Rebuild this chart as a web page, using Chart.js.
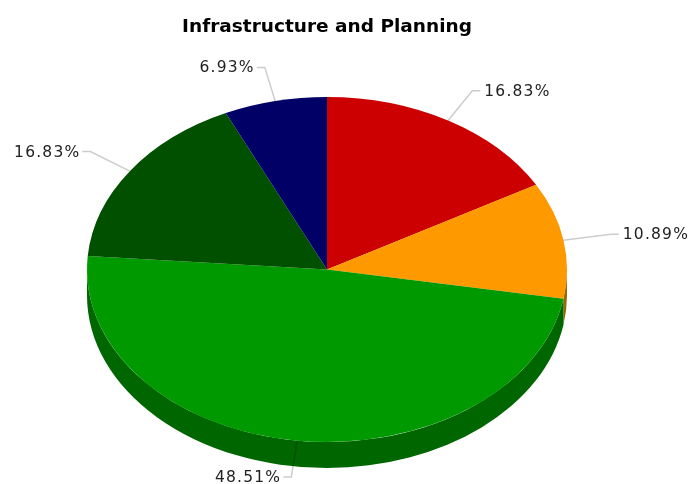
<!DOCTYPE html>
<html>
<head>
<meta charset="utf-8">
<style>
  html, body { margin: 0; padding: 0; background: #fff; }
  #wrap { position: relative; width: 689px; height: 484px; }
</style>
</head>
<body>
<div id="wrap"><canvas id="pieChart"></canvas></div>
<script src="https://cdn.jsdelivr.net/npm/chart.js@4"></script>
<script>
const values = [16.83, 10.89, 48.51, 16.83, 6.93];
const sliceLabels = ['16.83%', '10.89%', '48.51%', '16.83%', '6.93%'];
const sliceColors = ['#CC0000', '#FF9900', '#009900', '#005000', '#000066'];
const sideColors = ['#8F0000', '#996600', '#006600', '#003300', '#000047'];

// pie is squashed into an ellipse, Chart.js only does circles
const pieY = 269.5, radius = 240, squash = 0.71875, depth = 26;

const fakePie3d = {
    id: 'fakePie3d',
    beforeDatasetsDraw(chart) {
        const ctx = chart.ctx;
        const arcs = chart.getDatasetMeta(0).data;
        ctx.save();
        // side wall, only the front half can be seen
        arcs.forEach((arc, i) => {
            const a0 = Math.max(arc.startAngle, 0);
            const a1 = Math.min(arc.endAngle, Math.PI);
            if (a1 <= a0) return;
            ctx.beginPath();
            ctx.ellipse(arc.x, pieY, radius, radius * squash, 0, a0, a1);
            ctx.ellipse(arc.x, pieY + depth, radius, radius * squash, 0, a1, a0, true);
            ctx.closePath();
            ctx.fillStyle = sideColors[i];
            ctx.fill();
        });
        ctx.restore();
        ctx.save();
        const cy = arcs[0].y;
        ctx.translate(0, pieY);
        ctx.scale(1, squash);
        ctx.translate(0, -cy);
    },
    afterDatasetsDraw(chart) {
        const ctx = chart.ctx;
        ctx.restore();
        const arcs = chart.getDatasetMeta(0).data;
        ctx.save();
        ctx.font = '15.5px "DejaVu Sans"';
        ctx.letterSpacing = '1.2px';
        ctx.textBaseline = 'middle';
        arcs.forEach((arc, i) => {
            const mid = (arc.startAngle + arc.endAngle) / 2;
            const c = Math.cos(mid), s = Math.sin(mid);
            const x0 = arc.x + radius * c, y0 = pieY + radius * squash * s;
            const x1 = arc.x + 1.2 * radius * c, y1 = pieY + 1.2 * radius * squash * s + (s > 0.9 ? 2 : 0);
            const dir = c >= 0 ? 1 : -1;
            ctx.beginPath();
            ctx.moveTo(x0, y0);
            ctx.lineTo(x1, y1);
            ctx.lineTo(x1 + dir * 8, y1);
            ctx.strokeStyle = 'rgba(0,0,0,0.2)';
            ctx.lineWidth = 1.5;
            ctx.stroke();
            ctx.fillStyle = '#222';
            ctx.textAlign = dir > 0 ? 'left' : 'right';
            ctx.fillText(sliceLabels[i], x1 + dir * (dir > 0 ? 12 : 10), y1 + 1);
        });
        ctx.restore();
    }
};

new Chart(document.getElementById('pieChart'), {
    type: 'pie',
    data: {
        labels: sliceLabels,
        datasets: [{
            data: values,
            backgroundColor: sliceColors,
            borderWidth: 0,
            radius: radius,
            clip: false
        }]
    },
    plugins: [fakePie3d],
    options: {
        responsive: true,
        maintainAspectRatio: false,
        animation: false,
        layout: { padding: { left: 87, right: 122 } },
        plugins: {
            legend: { display: false },
            tooltip: { enabled: false },
            title: {
                display: true,
                text: 'Infrastructure and Planning',
                fullSize: false,
                color: '#000',
                font: { family: '"DejaVu Sans"', size: 18.5, weight: 'bold' },
                padding: { top: 16, bottom: 10 }
            }
        }
    }
});
</script>
</body>
</html>
